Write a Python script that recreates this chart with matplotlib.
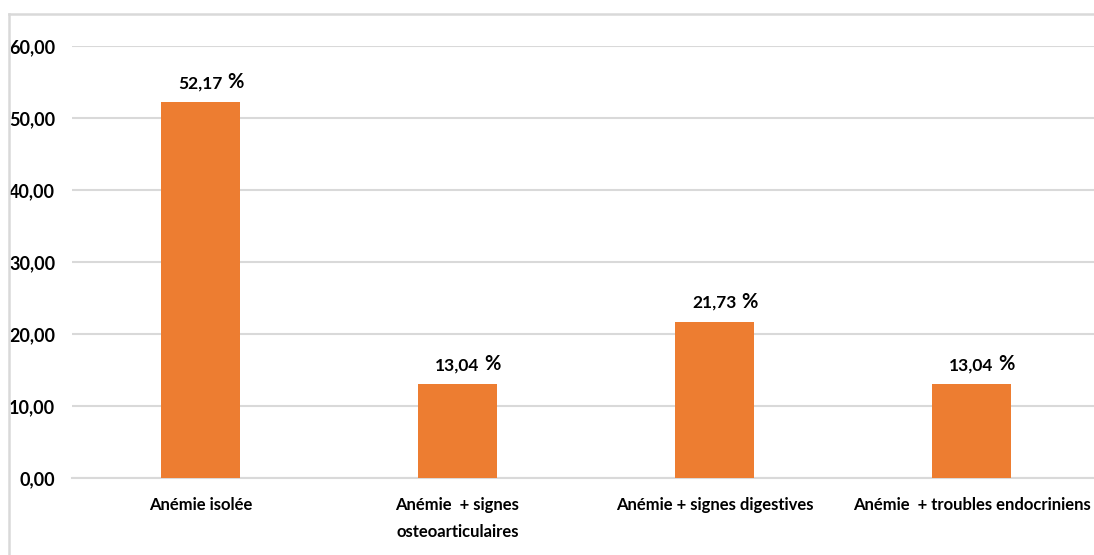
import matplotlib
matplotlib.use("Agg")
import matplotlib.pyplot as plt
from matplotlib.lines import Line2D

categories = [
    "Anémie isolée",
    "Anémie  + signes\nosteoarticulaires",
    "Anémie + signes digestives",
    "Anémie  + troubles endocriniens",
]
values = [52.17, 13.04, 21.73, 13.04]
value_labels = ["52,17", "13,04", "21,73", "13,04"]
y_ticks = [0, 10, 20, 30, 40, 50, 60]
y_tick_labels = ["0,00", "10,00", "20,00", "30,00", "40,00", "50,00", "60,00"]

plt.rcParams["font.family"] = ["Lato", "DejaVu Sans"]

W, H = 1094, 555
fig = plt.figure(figsize=(W / 100, H / 100), dpi=100)
ax = fig.add_axes([72 / W, 77 / H, 1028 / W, 432 / H])

x = list(range(len(categories)))
ax.bar(x, values, width=0.31, color="#ED7D31", zorder=3)

ax.set_xlim(-0.5, 3.5)
ax.set_ylim(0, 60)
ax.set_yticks(y_ticks)
ax.set_yticklabels(y_tick_labels)
ax.set_xticks(x)
ax.set_xticklabels(categories, linespacing=1.85)

ax.grid(axis="y", color="#d9d9d9", linewidth=1.5, zorder=0)
for s in ["top", "right", "left"]:
    ax.spines[s].set_visible(False)
ax.spines["bottom"].set_color("#d9d9d9")
ax.spines["bottom"].set_linewidth(1.5)
ax.spines["bottom"].set_zorder(2)

ax.tick_params(axis="y", length=0, pad=12, labelsize=13)
ax.tick_params(axis="x", length=0, pad=14, labelsize=12)
for t in ax.get_xticklabels() + ax.get_yticklabels():
    t.set_fontweight("bold")
    t.set_color("#000000")

for xi, v, lab in zip(x, values, value_labels):
    ax.annotate(lab, (xi, v), xytext=(0, 10), textcoords="offset points",
                ha="center", va="baseline", fontsize=12.5, fontweight="bold",
                color="#000000")
    ax.annotate("%", (xi, v), xytext=(25, 10), textcoords="offset points",
                ha="center", va="baseline", fontsize=14.5, fontweight="bold",
                color="#000000")

# chart frame
frame_color = "#d9d9d9"
fig.add_artist(Line2D([8.5 / W, 1.0], [1 - 14 / H, 1 - 14 / H],
                      transform=fig.transFigure, color=frame_color, linewidth=1.8))
fig.add_artist(Line2D([8.5 / W, 8.5 / W], [0, 1 - 14 / H],
                      transform=fig.transFigure, color=frame_color, linewidth=1.8))

fig.savefig("out.png", dpi=100)
